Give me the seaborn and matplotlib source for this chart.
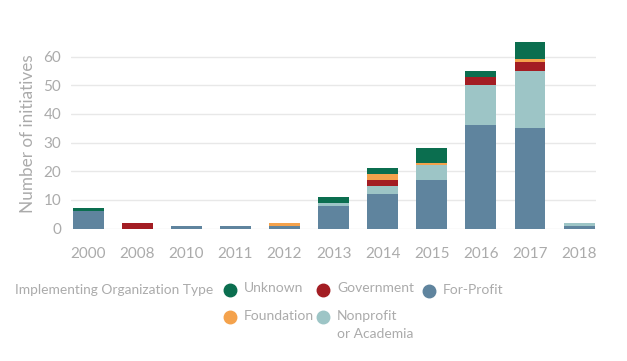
import matplotlib
matplotlib.use('Agg')
import matplotlib.pyplot as plt
import seaborn as sns
import numpy as np

# Data
years = ['2000', '2008', '2010', '2011', '2012', '2013', '2014', '2015', '2016', '2017', '2018']
for_profit = [6, 0, 1, 1, 1, 8, 12, 17, 36, 35, 1]
nonprofit = [0, 0, 0, 0, 0, 1, 3, 5, 14, 20, 1]
government = [0, 2, 0, 0, 0, 0, 2, 0, 3, 3, 0]
foundation = [0, 0, 0, 0, 1, 0, 2, 1, 0, 1, 0]
unknown = [1, 0, 0, 0, 0, 2, 2, 5, 2, 6, 0]

colors = {
    'Unknown': '#0b6e4f',
    'Government': '#a31d23',
    'For-Profit': '#5f849e',
    'Foundation': '#f4a24c',
    'Nonprofit\nor Academia': '#9dc5c6',
}
text_col = '#ababab'

sns.set_style('white')
plt.rcParams['font.family'] = ['Lato', 'DejaVu Sans']

fig, ax = plt.subplots(figsize=(6.27, 3.61), dpi=100)
fig.subplots_adjust(left=0.113, right=0.951, top=0.891, bottom=0.367)

# stacked bars: draw cumulative totals from the top layer down
layers = [('For-Profit', for_profit), ('Nonprofit\nor Academia', nonprofit),
          ('Government', government), ('Foundation', foundation), ('Unknown', unknown)]
cum = np.cumsum([np.array(v) for _, v in layers], axis=0)
for i in range(len(layers) - 1, -1, -1):
    name = layers[i][0]
    sns.barplot(x=years, y=cum[i], color=colors[name], width=0.63, saturation=1,
                linewidth=0, ax=ax, zorder=3)

ax.set_ylim(0, 66)
ax.set_xlim(-0.35, 10.35)
ax.set_yticks([0, 10, 20, 30, 40, 50, 60])
ax.yaxis.grid(True, color='#e8e8e8', linewidth=1, zorder=0)
for s in ax.spines.values():
    s.set_visible(False)
ax.tick_params(axis='both', colors=text_col, labelsize=11, length=0)
ax.tick_params(axis='x', pad=13)
ax.tick_params(axis='y', pad=7)
ax.set_ylabel('Number of initiatives', color=text_col, fontsize=12.3, labelpad=5)
ax.set_xlabel('')

# legend drawn in a pixel-space overlay
lax = fig.add_axes([0, 0, 1, 1])
lax.set_xlim(0, 627)
lax.set_ylim(361, 0)
lax.axis('off')
lax.text(15, 290, 'Implementing Organization Type', color=text_col, fontsize=9.9,
         va='center', ha='left')
entries = [('Unknown', 230, 290), ('Government', 323, 290), ('For-Profit', 429, 291),
           ('Foundation', 230, 317), ('Nonprofit\nor Academia', 323, 317)]
for name, x, y in entries:
    lax.plot([x], [y], marker='o', markersize=9, color=colors[name], linestyle='')
    lax.text(x + 14, y - 7.5, name, color=text_col, fontsize=10, va='top', ha='left',
             linespacing=1.65)

plt.savefig('out.png', dpi=100)
